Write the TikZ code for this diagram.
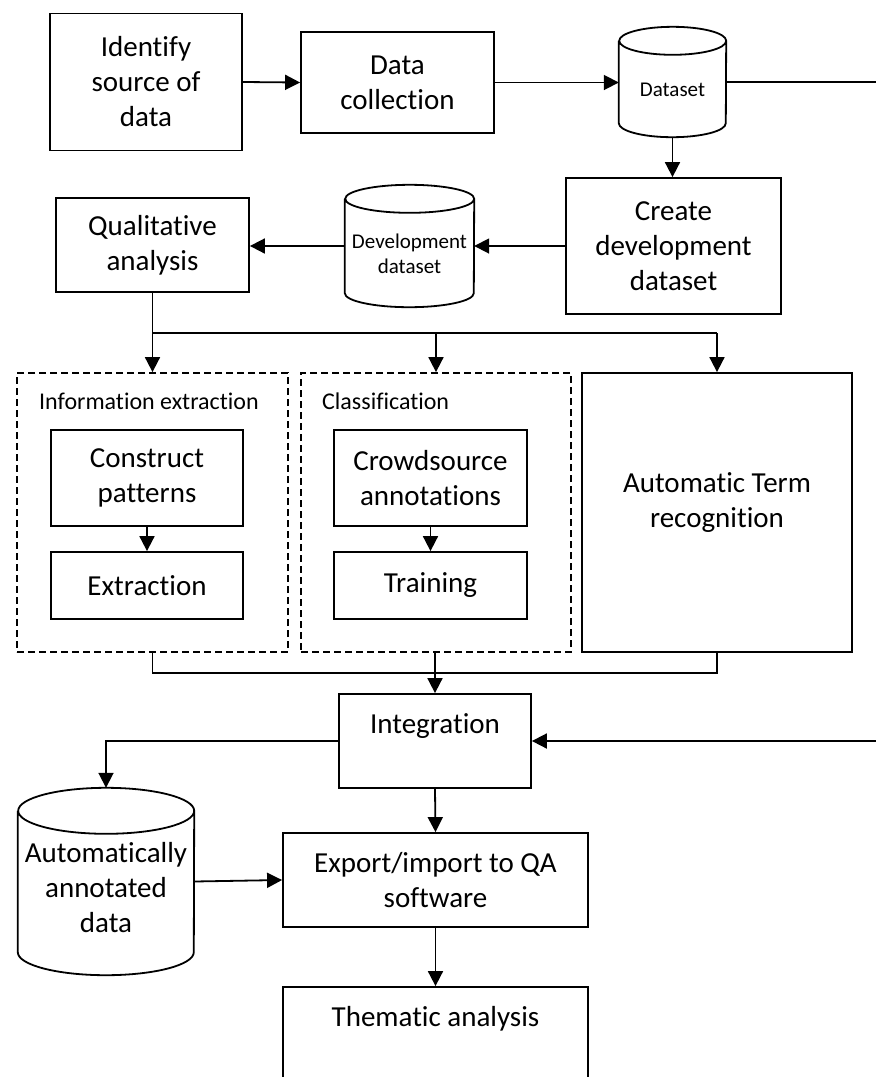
\documentclass[tikz,border=0pt]{standalone}
\usepackage{fontspec}
\setmainfont{Carlito}[Ligatures={NoCommon}]
\usetikzlibrary{arrows.meta,calc}
\newcommand{\fbig}{\fontsize{29}{35}\selectfont}
\newcommand{\fmid}{\fontsize{24}{29}\selectfont}
\newcommand{\fsmall}{\fontsize{21}{25}\selectfont}
\newcommand{\cylout}[3]{%
  \draw[lw] ([yshift=-#3]#1.north west) -- ([yshift=#3]#1.south west)
    arc[start angle=180,end angle=360,x radius=#2,y radius=#3]
    -- ([yshift=-#3]#1.north east)
    arc[start angle=0,end angle=360,x radius=#2,y radius=#3];}
\tikzset{
  lw/.style={line width=1.8pt},
  box/.style={draw, line width=1.8pt, inner sep=0pt, align=center, font=\fbig},
  dbox/.style={draw, line width=1.8pt, inner sep=0pt, dash pattern=on 7pt off 4pt},
  cylnode/.style={inner sep=0pt},
  txt/.style={inner sep=0pt, align=center, font=\fbig},
  grp/.style={inner sep=0pt, anchor=west, font=\fmid},
  arr/.style={line width=1.8pt, -{Triangle[length=15pt,width=15pt]}},
  ln/.style={line width=1.8pt}
}
\begin{document}
\begin{tikzpicture}[x=1pt,y=-1pt]
\useasboundingbox (0,0) rectangle (876,1077);
% top row
\node[box, minimum width=192pt, minimum height=137pt] (idf) at (146,82) {Identify\\source of\\data};
\node[box, minimum width=193pt, minimum height=101pt] (dc) at (397.5,82.5) {Data\\collection};
\node[cylnode, minimum width=107pt, minimum height=110pt] (ds) at (672.5,82) {};
\cylout{ds}{53.5pt}{14pt}
\node[txt, font=\fsmall] (dst) at (672.5,90) {Dataset};
% second row
\node[box, minimum width=215pt, minimum height=136pt] (cdd) at (673.5,246) {Create\\development\\dataset};
\node[cylnode, minimum width=129pt, minimum height=122pt] (dev) at (409.5,246) {};
\cylout{dev}{64.5pt}{14pt}
\node[txt, font=\fsmall] (devt) at (409.5,254) {Development\\dataset};
\node[box, minimum width=193pt, minimum height=94pt] (qa) at (152.5,245) {Qualitative\\analysis};
% groups
\node[dbox, minimum width=271pt, minimum height=279pt] (ie) at (152.5,512.5) {};
\node[grp] (iet) at (39,401) {Information extraction};
\node[box, minimum width=192pt, minimum height=96pt] (cp) at (147,478) {Construct\\patterns};
\node[box, minimum width=192pt, minimum height=67pt] (ex) at (147,585.5) {Extraction};
\node[dbox, minimum width=270pt, minimum height=279pt] (cl) at (436,512.5) {};
\node[grp] (clt) at (322,401) {Classification};
\node[box, minimum width=193pt, minimum height=96pt] (cs) at (430.5,478) {Crowdsource\\annotations};
\node[box, minimum width=193pt, minimum height=67pt] (tr) at (430.5,585.5) {Training};
\node[box, minimum width=270pt, minimum height=279pt] (atr) at (717,512.5) {};
\node[txt] (atrt) at (717,503) {Automatic Term\\recognition};
% integration and below
\node[box, minimum width=192pt, minimum height=94pt] (integ) at (435,741) {};
\node[txt] (integt) at (435,726) {Integration};
\node[cylnode, minimum width=176pt, minimum height=187pt] (aad) at (106,881.5) {};
\cylout{aad}{88pt}{23pt}
\node[txt] (aadt) at (106,888) {Automatically\\annotated\\data};
\node[box, minimum width=305pt, minimum height=94pt] (exp) at (435.5,880) {Export/import to QA\\software};
\node[box, minimum width=305pt, minimum height=103pt] (them) at (435.5,1038.5) {};
\node[txt] (themt) at (435.5,1019) {Thematic analysis};
% helper coordinates
\coordinate (busA) at (0,333);
\coordinate (busB) at (0,673);
\coordinate (edge) at (877.5,0);
% connectors
\draw[arr] (idf.east) -- (dc.west);
\draw[arr] (dc.east) -- (dc.east -| ds.west);
\draw[arr] (ds.south) -- (ds.south |- cdd.north);
\draw[arr] (cdd.west) -- (dev.east);
\draw[arr] (dev.west) -- (dev.west -| qa.east);
\draw[ln] (qa.south) -- (qa.south |- busA) -- (atr.north |- busA);
\draw[arr] (qa.south |- busA) -- (ie.north);
\draw[arr] (cl.north |- busA) -- (cl.north);
\draw[arr] (atr.north |- busA) -- (atr.north);
\draw[arr] (cp.south) -- (ex.north);
\draw[arr] (cs.south) -- (tr.north);
\draw[ln] (ie.south) -- (ie.south |- busB) -- (atr.south |- busB) -- (atr.south);
\draw[arr] (integ.north |- cl.south) -- (integ.north);
\draw[arr] (integ.west) -| (aad.north);
\draw[arr] (ds.east) -- (ds.east -| edge) |- (integ.east);
\draw[arr] (integ.south) -- (exp.north);
\draw[arr] (aad.east) -- (exp.west);
\draw[arr] (exp.south) -- (them.north);
\end{tikzpicture}
\end{document}
